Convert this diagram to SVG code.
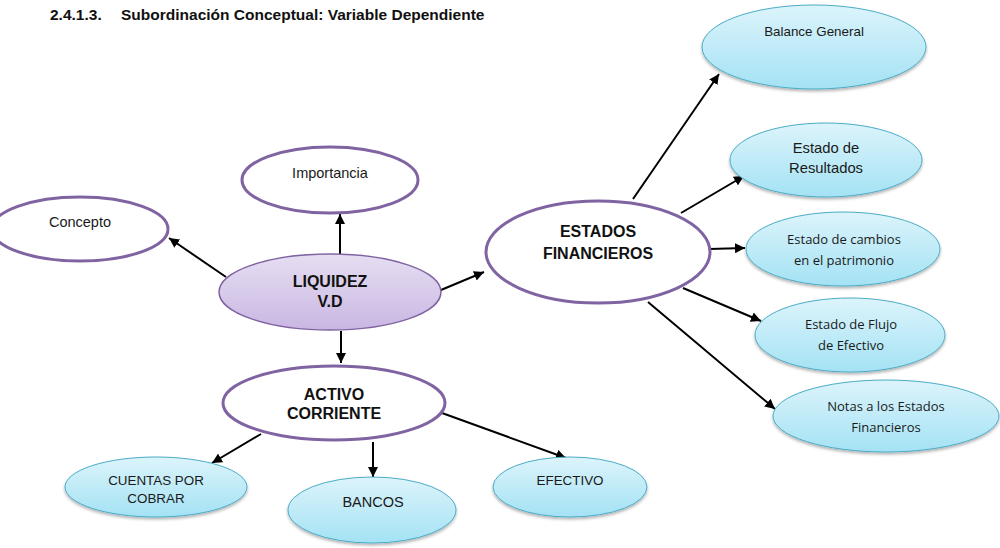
<svg xmlns="http://www.w3.org/2000/svg" width="1000" height="548" viewBox="0 0 1000 548">
<defs>
<linearGradient id="blue" x1="0" y1="0" x2="0" y2="1">
<stop offset="0" stop-color="#dcf4fb"/>
<stop offset="1" stop-color="#a4e2f4"/>
</linearGradient>
<linearGradient id="lav" x1="0" y1="0" x2="0" y2="1">
<stop offset="0" stop-color="#e6def2"/>
<stop offset="1" stop-color="#c9b7e2"/>
</linearGradient>
<filter id="sh" x="-10%" y="-10%" width="120%" height="130%">
<feDropShadow dx="0" dy="2" stdDeviation="1.5" flood-color="#000" flood-opacity="0.3"/>
</filter>
<marker id="arr" markerUnits="userSpaceOnUse" markerWidth="12" markerHeight="10" refX="10" refY="5" orient="auto">
<path d="M0,0 L10,5 L0,10 Z" fill="#000"/>
</marker>
</defs>
<style>
.title{font-family:"Liberation Sans",Arial,sans-serif;font-weight:bold;font-size:15.5px;fill:#111}
.pw{fill:#fff;stroke:#8064a2;stroke-width:3}
.pl{fill:url(#lav);stroke:#8064a2;stroke-width:1.5}
.bl{fill:url(#blue);stroke:#4bacc6;stroke-width:1;filter:url(#sh)}
.t{font-family:"Liberation Sans",Arial,sans-serif;fill:#1a1a1a;text-anchor:middle}
.b{font-weight:bold;font-size:16px;fill:#111}
.c{font-family:"Open Sans","Noto Sans",sans-serif;fill:#1a1a1a;text-anchor:middle;font-size:13px}
.con line{stroke:#000;stroke-width:2;marker-end:url(#arr)}
</style>
<text class="title" x="50" y="20">2.4.1.3.</text>
<text class="title" x="121" y="20">Subordinación Conceptual: Variable Dependiente</text>
<g id="connectors" class="con">
<line x1="226" y1="277" x2="169" y2="238"/>
<line x1="340" y1="256" x2="340" y2="214"/>
<line x1="341" y1="331" x2="341" y2="363"/>
<line x1="441" y1="290" x2="484" y2="272"/>
<line x1="633" y1="199" x2="719" y2="74"/>
<line x1="681" y1="213" x2="744" y2="176"/>
<line x1="709" y1="249" x2="745" y2="248"/>
<line x1="683" y1="288" x2="761" y2="321"/>
<line x1="648" y1="302" x2="775" y2="409"/>
<line x1="261" y1="434" x2="212" y2="463"/>
<line x1="373" y1="442" x2="373" y2="477"/>
<line x1="442" y1="413" x2="566" y2="458"/>
</g>
<g id="concepto">
<ellipse class="pw" cx="80" cy="229" rx="88" ry="32"/>
<text class="t" x="80" y="227" font-size="14.5">Concepto</text>
</g>
<g id="importancia">
<ellipse class="pw" cx="330" cy="180" rx="88" ry="33"/>
<text class="t" x="330" y="178" font-size="14.5">Importancia</text>
</g>
<g id="liquidez">
<ellipse class="pl" cx="330" cy="292" rx="111" ry="38"/>
<text class="t b" x="330" y="287">LIQUIDEZ</text>
<text class="t b" x="330" y="307">V.D</text>
</g>
<g id="estados">
<ellipse class="pw" cx="598" cy="252" rx="112" ry="51"/>
<text class="t b" x="598" y="237">ESTADOS</text>
<text class="t b" x="598" y="259">FINANCIEROS</text>
</g>
<g id="activo">
<ellipse class="pw" cx="334" cy="403" rx="111" ry="37"/>
<text class="t b" x="334" y="400">ACTIVO</text>
<text class="t b" x="334" y="419">CORRIENTE</text>
</g>
<g id="balance">
<ellipse class="bl" cx="814" cy="47" rx="112" ry="42"/>
<text class="t" x="814" y="36" font-size="13.4">Balance General</text>
</g>
<g id="resultados">
<ellipse class="bl" cx="826" cy="160" rx="96" ry="37"/>
<text class="t" x="826" y="153" font-size="14.8">Estado de</text>
<text class="t" x="826" y="173" font-size="14.8">Resultados</text>
</g>
<g id="cambios">
<ellipse class="bl" cx="843" cy="249" rx="97" ry="37"/>
<text class="c" x="844" y="244">Estado de cambios</text>
<text class="c" x="844" y="265">en el patrimonio</text>
</g>
<g id="flujo">
<ellipse class="bl" cx="850" cy="335" rx="95" ry="37"/>
<text class="c" x="851" y="329">Estado de Flujo</text>
<text class="c" x="851" y="350">de Efectivo</text>
</g>
<g id="notas">
<ellipse class="bl" cx="886" cy="416" rx="113" ry="36"/>
<text class="c" x="886" y="411">Notas a los Estados</text>
<text class="c" x="886" y="432">Financieros</text>
</g>
<g id="cuentas">
<ellipse class="bl" cx="156" cy="487" rx="91" ry="30"/>
<text class="t" x="156" y="485" font-size="13.4">CUENTAS POR</text>
<text class="t" x="156" y="503" font-size="13.4">COBRAR</text>
</g>
<g id="bancos">
<ellipse class="bl" cx="372" cy="510" rx="84" ry="33"/>
<text class="t" x="373" y="507" font-size="14.5">BANCOS</text>
</g>
<g id="efectivo">
<ellipse class="bl" cx="570" cy="487" rx="77" ry="30"/>
<text class="t" x="570" y="485" font-size="13.4">EFECTIVO</text>
</g>
</svg>
